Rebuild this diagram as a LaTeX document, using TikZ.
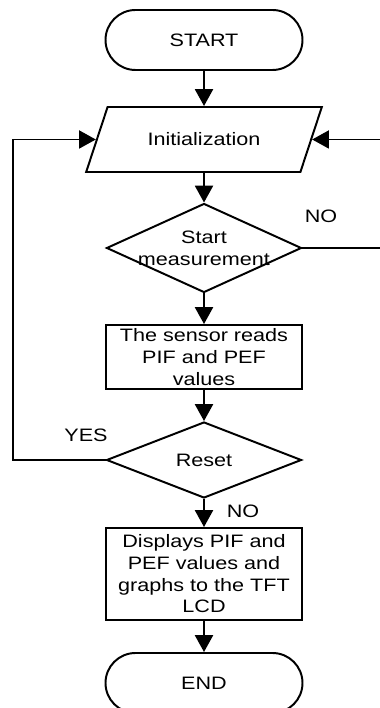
\documentclass[tikz,border=0pt]{standalone}
\usepackage{fontspec}
\setmainfont{Liberation Sans}[FakeStretch=1.2]
\usetikzlibrary{arrows.meta}
\usetikzlibrary{shapes.geometric}

\begin{document}
\begin{tikzpicture}[
	font=\fontsize{12.8pt}{15.4pt}\selectfont,
	line width=1.4pt,
	term/.style={shape=rectangle,draw,rounded corners=0.75cm,minimum width=4.925cm,minimum height=1.5cm},
	io/.style={shape=trapezium,draw,trapezium left angle=59,trapezium right angle=121,trapezium stretches=true,minimum width=5.9cm,minimum height=1.625cm},
	decide/.style={shape=diamond,draw,inner sep=0pt,minimum width=4.875cm},
	proc/.style={shape=rectangle,draw,inner sep=0pt,minimum width=4.9cm,align=center},
	flow/.style={-{Triangle[length=0.42cm,width=0.45cm]}}
]
	\useasboundingbox (0,0) rectangle (9.5,17.7);
	\draw (5.1,16.7) node [term] (start) {START};
	\draw (5.1,14.2125) node [io] (init) {Initialization};
	\draw (5.1,11.5) node [decide,minimum height=2.225cm] (meas) {};
	\draw (meas) node [align=center] (meastext) {Start\\measurement};
	\draw (5.1,8.775) node [proc,minimum height=1.6cm] (read) {The sensor reads\\PIF and PEF\\values};
	\draw (5.1,6.2) node [decide,minimum height=1.9cm] (reset) {};
	\draw (reset) node (resettext) {Reset};
	\draw (5.1,3.35) node [proc,minimum height=2.3cm] (show) {Displays PIF and\\PEF values and\\graphs to the TFT\\LCD};
	\draw (5.1,0.625) node [term] (end) {END};
	\draw[flow] (start) -- (init);
	\draw[flow] (init) -- (meas);
	\draw[flow] (meas) -- (read);
	\draw[flow] (read) -- (reset);
	\draw[flow] (reset) -- (show);
	\draw[flow] (show) -- (end);
	\draw[flow] (reset.west) -- ++(left:2.325cm) |- (init.west);
	\draw[flow] (meas.east) -- ++(right:2.075cm) |- (init.east);
	\draw (8.025,12.3) node (no1) {NO};
	\draw (2.15,6.825) node (yes) {YES};
	\draw (6.075,4.925) node (no2) {NO};
\end{tikzpicture}
\end{document}
